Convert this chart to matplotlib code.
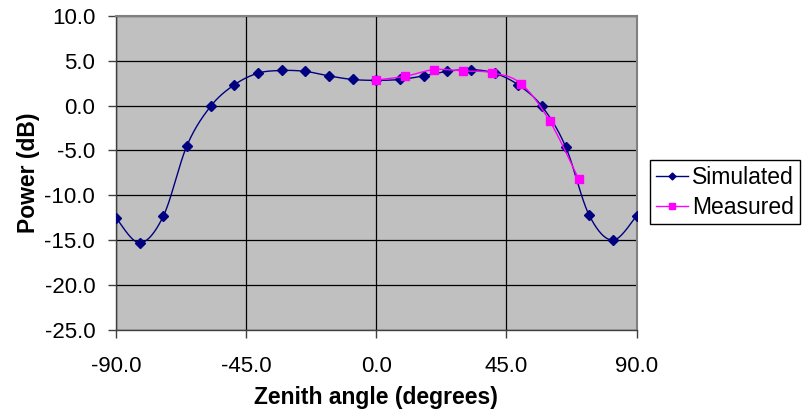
import numpy as np
import matplotlib.pyplot as plt
from matplotlib.ticker import FormatStrFormatter

plt.rcParams['font.family'] = ['Liberation Sans', 'DejaVu Sans']

# simulated pattern, points every 90/11 degrees
sim_angle = [-90.0, -81.8, -73.6, -65.5, -57.3, -49.1, -40.9, -32.7, -24.5, -16.4, -8.2,
             0.0, 8.2, 16.4, 24.5, 32.7, 40.9, 49.1, 57.3, 65.5, 73.6, 81.8, 90.0]
sim_power = [-12.5, -15.3, -12.3, -4.5, -0.1, 2.3, 3.6, 3.9, 3.8, 3.3, 2.9,
             2.8, 2.9, 3.3, 3.8, 4.0, 3.6, 2.3, -0.1, -4.6, -12.2, -15.0, -12.3]

# measured points
meas_angle = [0, 10, 20, 30, 40, 50, 60, 70]
meas_power = [2.85, 3.25, 4.0, 3.85, 3.65, 2.45, -1.75, -8.2]

x_ticks = [-90, -45, 0, 45, 90]
y_ticks = [-25, -20, -15, -10, -5, 0, 5, 10]


def smooth(x, y, n=30):
    # Excel style smoothed line: cubic Bezier, control points from neighbours
    x = np.asarray(x, dtype=float)
    y = np.asarray(y, dtype=float)
    pts = np.column_stack([x, y])
    ext = np.vstack([pts[0], pts, pts[-1]])
    t = np.linspace(0, 1, n)[:, None]
    out = []
    for i in range(len(pts) - 1):
        p0, p1, p2, p3 = ext[i], ext[i + 1], ext[i + 2], ext[i + 3]
        c1 = p1 + (p2 - p0) / 6
        c2 = p2 - (p3 - p1) / 6
        seg = ((1 - t) ** 3) * p1 + 3 * ((1 - t) ** 2) * t * c1 + 3 * (1 - t) * t ** 2 * c2 + t ** 3 * p2
        out.append(seg if i == 0 else seg[1:])
    out = np.vstack(out)
    return out[:, 0], out[:, 1]


fig = plt.figure(figsize=(8.02, 4.19), dpi=100)
ax = fig.add_axes([0.1446, 0.2124, 0.6491, 0.7501])
ax.set_facecolor('#C0C0C0')

sx, sy = smooth(sim_angle, sim_power)
ax.plot(sx, sy, color='#000080', lw=1.0, zorder=3)
ax.plot(sim_angle, sim_power, ls='none', marker='D', ms=5, color='#000080', zorder=4)

mx, my = smooth(meas_angle, meas_power)
ax.plot(mx, my, color='#FF00FF', lw=1.0, zorder=5)
ax.plot(meas_angle, meas_power, ls='none', marker='s', ms=5.5, color='#FF00FF', zorder=6)

ax.set_xlim(-90, 90)
ax.set_ylim(-25, 10)
ax.set_xticks(x_ticks)
ax.set_yticks(y_ticks)
ax.xaxis.set_major_formatter(FormatStrFormatter('%.1f'))
ax.yaxis.set_major_formatter(FormatStrFormatter('%.1f'))
ax.grid(True, color='black', lw=0.9)
ax.set_axisbelow(True)
ax.tick_params(direction='out', length=6, width=1, color='#404040', labelsize=16)
ax.tick_params(axis='x', pad=13)
ax.tick_params(axis='y', pad=9)

for side in ['top', 'right']:
    ax.spines[side].set_color('#808080')
    ax.spines[side].set_linewidth(1.5)
for side in ['left', 'bottom']:
    ax.spines[side].set_color('#404040')
    ax.spines[side].set_linewidth(1.0)

ax.set_xlabel('Zenith angle (degrees)', fontsize=16.5, fontweight='bold', labelpad=6)
ax.set_ylabel('Power (dB)', fontsize=16.5, fontweight='bold', labelpad=3)

h1, = ax.plot([], [], color='#000080', marker='D', ms=3.5, lw=1.0)
h2, = ax.plot([], [], color='#FF00FF', marker='s', ms=4, lw=1.0)
leg = fig.legend([h1, h2], ['Simulated', 'Measured'], loc='upper left',
                 bbox_to_anchor=(650 / 802, 1 - 160 / 419), fontsize=16.5,
                 frameon=True, fancybox=False, edgecolor='black', framealpha=1,
                 handlelength=1.4, handletextpad=0.2, borderpad=0.25,
                 borderaxespad=0, labelspacing=0.3)
leg.get_frame().set_linewidth(1.0)

fig.savefig('out.png', dpi=100)
